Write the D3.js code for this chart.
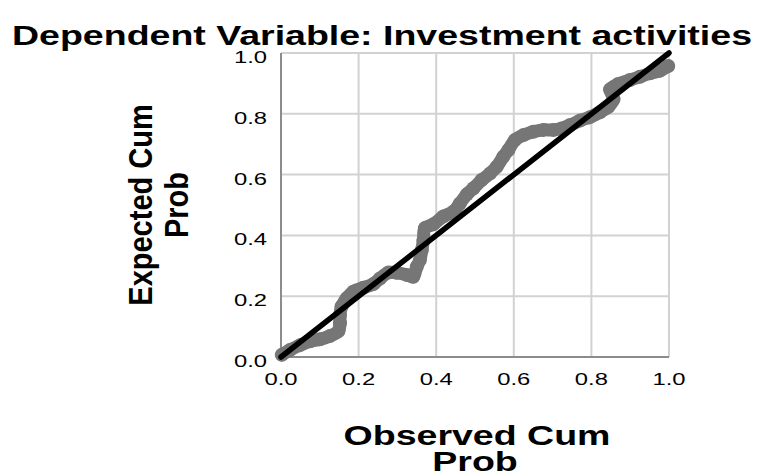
<!DOCTYPE html>
<html>
<head>
<meta charset="utf-8">
<script src="https://cdn.jsdelivr.net/npm/d3@7"></script>
<style>
  html, body { margin: 0; padding: 0; background: #fff; }
  svg { display: block; }
</style>
</head>
<body>
<svg id="chart" width="765" height="476"></svg>
<script>
// ---- Data ----
const observedCumProb = [0.002,0.023,0.049,0.075,0.100,0.126,0.148,0.152,0.152,0.156,0.169,0.186,0.212,0.238,0.255,0.277,0.298,0.324,0.341,0.350,0.358,0.363,0.367,0.371,0.393,0.418,0.444,0.461,0.479,0.496,0.517,0.539,0.556,0.573,0.586,0.603,0.625,0.650,0.676,0.702,0.723,0.745,0.771,0.796,0.822,0.844,0.857,0.848,0.869,0.899,0.925,0.951,0.977,0.998];
const expectedCumProb = [0.007,0.023,0.039,0.052,0.058,0.069,0.085,0.111,0.138,0.166,0.193,0.215,0.228,0.240,0.258,0.278,0.277,0.270,0.264,0.297,0.319,0.352,0.385,0.424,0.437,0.462,0.478,0.505,0.535,0.555,0.582,0.604,0.626,0.659,0.681,0.714,0.730,0.741,0.747,0.747,0.752,0.763,0.778,0.789,0.805,0.823,0.848,0.880,0.898,0.911,0.922,0.933,0.942,0.957];
const tickValues = [0.0, 0.2, 0.4, 0.6, 0.8, 1.0];
const tickLabels = ["0.0", "0.2", "0.4", "0.6", "0.8", "1.0"];
const titleText = "Dependent Variable: Investment activities";
const xLabelLines = ["Observed Cum", "Prob"];
const yLabelLines = ["Expected Cum", "Prob"];

(function () {
// ---- Layout ----
const svg = d3.select("#chart");
const pl = 281, pr = 669, pt = 53, pb = 357;
const x = d3.scaleLinear().domain([0, 1]).range([pl, pr]);
const y = d3.scaleLinear().domain([0, 1]).range([pb, pt]);
const FONT = "'Liberation Sans', Arial, sans-serif";

function stretchedText(g, str, px, py, opts) {
  return g.append("text")
    .attr("transform", `translate(${px},${py}) scale(${opts.sx || 1},1)` + (opts.rotate ? ` rotate(${opts.rotate})` : ""))
    .attr("text-anchor", opts.anchor || "middle")
    .attr("font-family", FONT)
    .attr("font-size", opts.size)
    .attr("font-weight", opts.weight || "normal")
    .attr("fill", "#000")
    .text(str);
}

// gridlines
const grid = svg.append("g");
grid.selectAll("line.vx").data(tickValues.slice(1)).join("line")
  .attr("x1", d => x(d)).attr("x2", d => x(d))
  .attr("y1", pt).attr("y2", pb)
  .attr("stroke", "#d2d2d2").attr("stroke-width", 2);
grid.selectAll("line.hy").data(tickValues.slice(1)).join("line")
  .attr("x1", pl).attr("x2", pr)
  .attr("y1", d => y(d)).attr("y2", d => y(d))
  .attr("stroke", "#d2d2d2").attr("stroke-width", 2);

// axis lines
svg.append("line").attr("x1", pl).attr("x2", pl).attr("y1", pt).attr("y2", pb + 1)
  .attr("stroke", "#8c8c8c").attr("stroke-width", 2);
svg.append("line").attr("x1", pl - 1).attr("x2", pr).attr("y1", pb).attr("y2", pb)
  .attr("stroke", "#8c8c8c").attr("stroke-width", 2);

// tick labels
const tl = svg.append("g");
tickValues.forEach((v, i) => {
  stretchedText(tl, tickLabels[i], 267, y(v) + 10, { anchor: "end", size: 17, sx: 1.4 });
  stretchedText(tl, tickLabels[i], x(v), 385, { anchor: "middle", size: 17, sx: 1.4 });
});

// data points
const pts = observedCumProb.map((o, i) => [o, expectedCumProb[i]]);
const gray = "#767676";
svg.append("path")
  .datum(pts)
  .attr("d", d3.line().curve(d3.curveCatmullRom).x(d => x(d[0])).y(d => y(d[1])))
  .attr("fill", "none").attr("stroke", gray).attr("stroke-width", 13)
  .attr("stroke-linejoin", "round").attr("stroke-linecap", "round");
svg.append("g").selectAll("circle").data(pts).join("circle")
  .attr("cx", d => x(d[0])).attr("cy", d => y(d[1])).attr("r", 7)
  .attr("fill", gray);

// reference line
svg.append("line")
  .attr("x1", x(0)).attr("y1", y(0)).attr("x2", x(1)).attr("y2", y(1))
  .attr("stroke", "#000").attr("stroke-width", 5.5).attr("stroke-linecap", "round");

// title
stretchedText(svg, titleText, 382, 45, { size: 28, weight: "bold", sx: 1.34 });

// x axis label
stretchedText(svg, xLabelLines[0], 477, 445, { size: 28, weight: "bold", sx: 1.34 });
stretchedText(svg, xLabelLines[1], 475, 471, { size: 28, weight: "bold", sx: 1.34 });

// y axis label (rotated)
stretchedText(svg, yLabelLines[0], 152, 205, { size: 29, weight: "bold", sx: 1.15, rotate: -90 });
stretchedText(svg, yLabelLines[1], 188, 205, { size: 29, weight: "bold", sx: 1.15, rotate: -90 });
})();
</script>
</body>
</html>
